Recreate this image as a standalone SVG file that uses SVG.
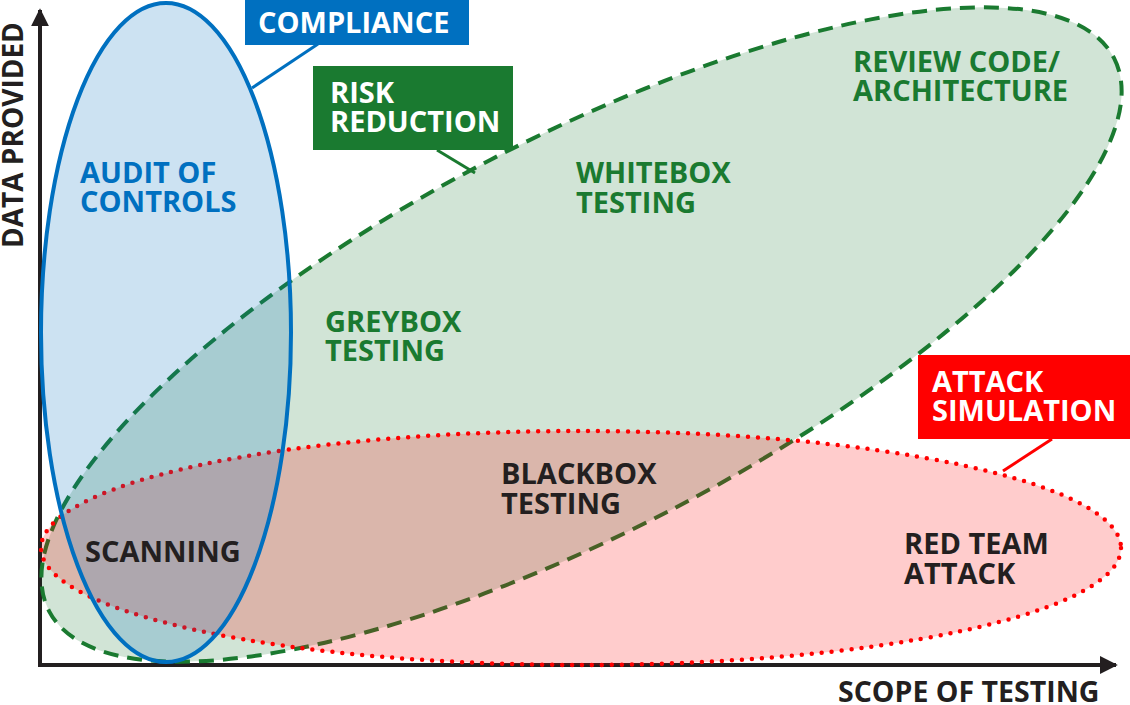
<svg xmlns="http://www.w3.org/2000/svg" width="1130" height="705" viewBox="0 0 1130 705">
<style>
text{font-family:"Open Sans","Noto Sans","Liberation Sans",sans-serif;font-weight:700;font-size:29px}
.g{fill:#1a7a30}.b{fill:#0070c0}.k{fill:#231f20}.w{fill:#fff}
.axis{stroke:#231f20;stroke-width:4;fill:none}
</style>
<defs>
<marker id="ah" viewBox="0 0 10 10" refX="9" refY="5" markerWidth="4.5" markerHeight="4.5" markerUnits="strokeWidth" orient="auto"><path d="M0,0L10,5L0,10z" fill="#231f20"/></marker>
</defs>
<g id="axes">
<path class="axis" d="M40,665V10" marker-end="url(#ah)"/>
<path class="axis" d="M38,665H1116" marker-end="url(#ah)"/>
</g>
<g id="risk-reduction-area">
<ellipse cx="581.5" cy="334.5" rx="600" ry="197" transform="rotate(-27.45 581.5 334.5)" fill="#1a7a30" fill-opacity="0.2" stroke="#1a7a30" stroke-width="4" stroke-dasharray="15 9"/>
</g>
<g id="attack-simulation-area">
<ellipse cx="581" cy="548" rx="540" ry="117" fill="#ff0000" fill-opacity="0.2" stroke="#ff0000" stroke-width="4.5" stroke-dasharray="0 10" stroke-linecap="round"/>
</g>
<g id="compliance-area">
<ellipse cx="166" cy="332.5" rx="125" ry="329.5" fill="#0070c0" fill-opacity="0.2" stroke="#0070c0" stroke-width="4"/>
</g>
<g id="connectors" stroke-width="3">
<line x1="318" y1="44" x2="252" y2="88" stroke="#0070c0"/>
<line x1="437" y1="150" x2="475" y2="173" stroke="#1a7a30"/>
<line x1="1052" y1="439" x2="1003" y2="471" stroke="#ff0000"/>
</g>
<g id="compliance-label">
<rect x="245" y="0" width="224" height="45" fill="#0070c0"/>
<text class="w" x="258" y="33">COMPLIANCE</text>
</g>
<g id="risk-reduction-label">
<rect x="313" y="66" width="200" height="84" fill="#1a7a30"/>
<text class="w" x="330" y="103">RISK</text>
<text class="w" x="330" y="132">REDUCTION</text>
</g>
<g id="attack-simulation-label">
<rect x="918" y="355" width="212" height="84" fill="#ff0000"/>
<text class="w" x="932" y="392">ATTACK</text>
<text class="w" x="932" y="421">SIMULATION</text>
</g>
<g id="audit-of-controls"><text class="b" x="80" y="183">AUDIT OF</text><text class="b" x="80" y="212">CONTROLS</text></g>
<g id="review-code"><text class="g" x="853" y="72">REVIEW CODE/</text><text class="g" x="853" y="101">ARCHITECTURE</text></g>
<g id="whitebox-testing"><text class="g" x="576" y="183">WHITEBOX</text><text class="g" x="576" y="213">TESTING</text></g>
<g id="greybox-testing"><text class="g" x="325" y="332">GREYBOX</text><text class="g" x="325" y="361">TESTING</text></g>
<g id="blackbox-testing"><text class="k" x="501" y="484">BLACKBOX</text><text class="k" x="501" y="514">TESTING</text></g>
<g id="scanning"><text class="k" x="85" y="562">SCANNING</text></g>
<g id="red-team-attack"><text class="k" x="904" y="554">RED TEAM</text><text class="k" x="904" y="584">ATTACK</text></g>
<g id="axis-labels">
<text class="k" x="838" y="702" style="font-size:28.5px">SCOPE OF TESTING</text>
<text class="k" transform="translate(23,248) rotate(-90)" style="font-size:28px">DATA PROVIDED</text>
</g>
</svg>
